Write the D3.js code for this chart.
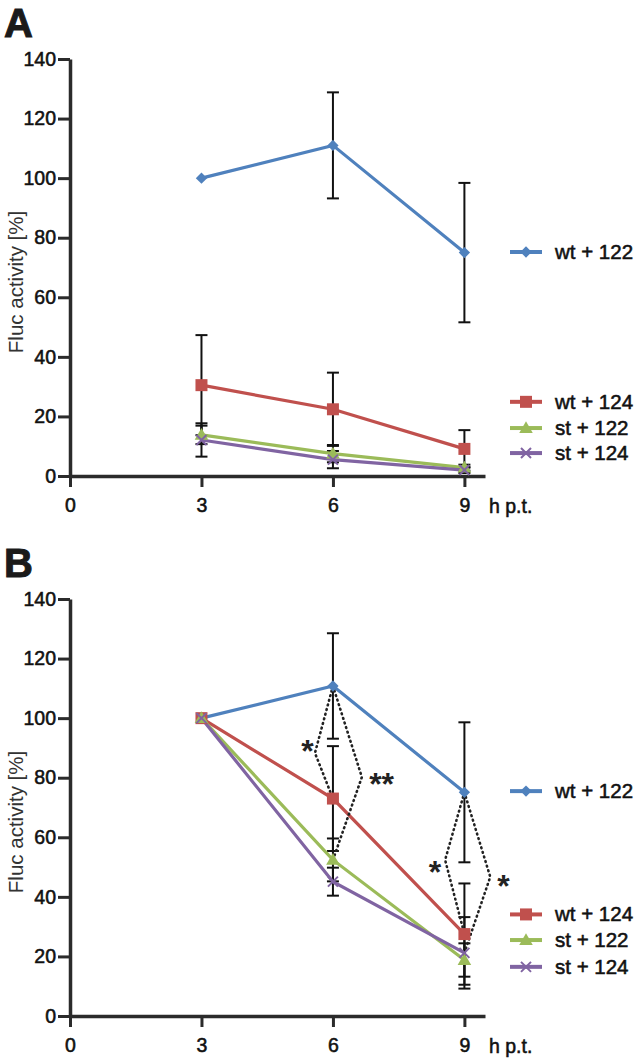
<!DOCTYPE html>
<html><head><meta charset="utf-8">
<script src="https://cdn.jsdelivr.net/npm/d3@7"></script>
<style>
body{margin:0;background:#fff}
svg{display:block}
text{font-family:"Liberation Sans",Arial,Helvetica,sans-serif}
</style>
</head><body>
<svg id="c" width="642" height="1060"></svg>
<script>
// ---------- data ----------
const times = [3, 6, 9];
const seriesNames = ["wt + 122", "wt + 124", "st + 122", "st + 124"];
const yTicks = [0, 20, 40, 60, 80, 100, 120, 140];
const xTicks = [0, 3, 6, 9];
const xUnitLabel = "h p.t.";
const yLabel = "Fluc activity [%]";

// Panel A
const A_wt122 = [100, 111.0, 75.0];
const A_wt124 = [30.5, 22.4, 9.1];
const A_st122 = [13.8, 7.5, 2.8];
const A_st124 = [12.1, 5.5, 2.0];
const A_err_wt122 = [0, 17.8, 23.4];
const A_err_wt124 = [16.8, 12.3, 6.3];
const A_err_st122 = [3.1, 2.9, 1.0];
const A_err_st124 = [5.6, 2.9, 1.0];
const A_legendAt = [75.2, 24.9, 16.1, 7.7];

// Panel B
const B_wt122 = [100, 110.8, 75.1];
const B_wt124 = [100, 73.0, 27.5];
const B_st122 = [100, 52.4, 18.8];
const B_st124 = [100, 45.1, 21.2];
const B_err_wt122 = [0, 17.7, 23.5];
const B_err_wt124 = [0, 17.6, 17.0];
const B_err_st122 = [0, 7.2, 5.6];
const B_err_st124 = [0, 4.7, 12.0];
const B_legendAt = [75.5, 34.1, 25.5, 16.5];

// significance brackets (panel B): time, from-series, to-series, vertex (t, v), label, label (t, v)
const sigTime = [6, 6, 9, 9];
const sigFrom = [0, 0, 0, 0];
const sigTo = [1, 2, 1, 3];
const sigVertexT = [5.59, 6.66, 8.56, 9.59];
const sigVertexV = [88.3, 80.2, 52.4, 46.7];
const sigLabel = ["*", "**", "*", "*"];
const sigLabelT = [5.42, 7.11, 8.33, 9.89];
const sigLabelV = [91.3, 80.3, 50.9, 46.2];

// ---------- styles ----------
const colors = ["#4f81bd", "#c0504d", "#9bbb59", "#8064a2"];
const shapes = ["diamond", "square", "triangle", "x"];
const axisColor = "#2b2b2b";
const FONT = '"Liberation Sans",Arial,Helvetica,sans-serif';

const svg = d3.select("#c");

function heavy(sel, color, w) {
  return sel.attr("fill", color).attr("stroke", color).attr("stroke-width", w || 0.55);
}

function marker(sel, shape, color) {
  if (shape === "diamond") {
    sel.append("path").attr("d", d3.symbol(d3.symbolSquare, 64)()).attr("transform", "rotate(45)").attr("fill", color);
  } else if (shape === "square") {
    sel.append("path").attr("d", d3.symbol(d3.symbolSquare, 144)()).attr("fill", color);
  } else if (shape === "triangle") {
    sel.append("path").attr("d", d3.symbol(d3.symbolTriangle, 80)()).attr("transform", "translate(0,1)").attr("fill", color);
  } else {
    sel.append("path").attr("d", "M-5,-5L5,5M-5,5L5,-5").attr("stroke", color).attr("stroke-width", 2).attr("fill", "none");
  }
}

function drawPanel(offY, letter, vals, errs, legendAt, withSig) {
  const g = svg.append("g").attr("transform", `translate(0,${offY})`);
  const x = d3.scaleLinear().domain([0, 9.47]).range([70, 485]);
  const y = d3.scaleLinear().domain([0, 140]).range([476, 59]);

  heavy(g.append("text").attr("x", 4).attr("y", 37).attr("font-size", 40).attr("font-weight", "bold"), "#1a1a1a", 1).text(letter);

  // y axis
  const ya = g.append("g").attr("transform", "translate(70,0)")
    .call(d3.axisLeft(y).tickValues(yTicks).tickSize(12).tickSizeOuter(0).tickPadding(2));
  // x axis
  const xa = g.append("g").attr("transform", "translate(0,476)")
    .call(d3.axisBottom(x).tickValues(xTicks).tickSize(11).tickSizeOuter(0).tickPadding(11));
  [ya, xa].forEach(a => {
    a.select(".domain").attr("stroke", axisColor).attr("stroke-width", 3.5);
    a.selectAll(".tick line").attr("stroke", axisColor).attr("stroke-width", 3);
    heavy(a.selectAll(".tick text").attr("font-size", 19.5).attr("font-family", FONT), "#111");
  });
  heavy(g.append("text").attr("x", 489).attr("y", 513).attr("font-size", 19.5), "#111").text(xUnitLabel);

  g.append("text").attr("transform", "translate(23,282) rotate(-90)").attr("text-anchor", "middle")
    .attr("font-size", 20.5).attr("fill", "#333").text(yLabel);

  // error bars
  vals.forEach((s, i) => {
    s.forEach((v, j) => {
      const e = errs[i][j];
      if (!e) return;
      const cx = x(times[j]);
      const eb = g.append("g").attr("stroke", "#111").attr("stroke-width", 2);
      eb.append("line").attr("x1", cx).attr("x2", cx).attr("y1", y(v - e)).attr("y2", y(v + e));
      eb.append("line").attr("x1", cx - 6).attr("x2", cx + 6).attr("y1", y(v - e)).attr("y2", y(v - e));
      eb.append("line").attr("x1", cx - 6).attr("x2", cx + 6).attr("y1", y(v + e)).attr("y2", y(v + e));
    });
  });

  // lines
  const line = d3.line().x((d, j) => x(times[j])).y(d => y(d));
  vals.forEach((s, i) => {
    g.append("path").attr("d", line(s)).attr("fill", "none").attr("stroke", colors[i]).attr("stroke-width", 3.2);
  });

  // significance brackets
  if (withSig) {
    sigTime.forEach((t, k) => {
      const j = times.indexOf(t);
      const p = d3.path();
      p.moveTo(x(t), y(vals[sigFrom[k]][j]));
      p.lineTo(x(sigVertexT[k]), y(sigVertexV[k]));
      p.lineTo(x(t), y(vals[sigTo[k]][j]));
      g.append("path").attr("d", p.toString()).attr("fill", "none").attr("stroke", "#222")
        .attr("stroke-width", 2.6).attr("stroke-linecap", "round").attr("stroke-dasharray", "0.8,4");
      g.append("text").attr("x", x(sigLabelT[k])).attr("y", y(sigLabelV[k]) + 0.575 * 32)
        .attr("text-anchor", "middle").attr("font-size", 32).attr("font-weight", "bold").attr("fill", "#222")
        .text(sigLabel[k]);
    });
  }

  // markers
  vals.forEach((s, i) => {
    s.forEach((v, j) => {
      const m = g.append("g").attr("transform", `translate(${x(times[j])},${y(v)})`);
      marker(m, shapes[i], colors[i]);
    });
  });

  // legend
  seriesNames.forEach((n, i) => {
    const ly = y(legendAt[i]);
    g.append("line").attr("x1", 510).attr("x2", 542).attr("y1", ly).attr("y2", ly).attr("stroke", colors[i]).attr("stroke-width", 4);
    const m = g.append("g").attr("transform", `translate(526,${ly})`);
    marker(m, shapes[i], colors[i]);
    heavy(g.append("text").attr("x", 555).attr("y", ly + 7).attr("font-size", 20.5), "#111").text(n);
  });
}

drawPanel(0, "A", [A_wt122, A_wt124, A_st122, A_st124], [A_err_wt122, A_err_wt124, A_err_st122, A_err_st124], A_legendAt, false);
drawPanel(540, "B", [B_wt122, B_wt124, B_st122, B_st124], [B_err_wt122, B_err_wt124, B_err_st122, B_err_st124], B_legendAt, true);
</script>
</body></html>
